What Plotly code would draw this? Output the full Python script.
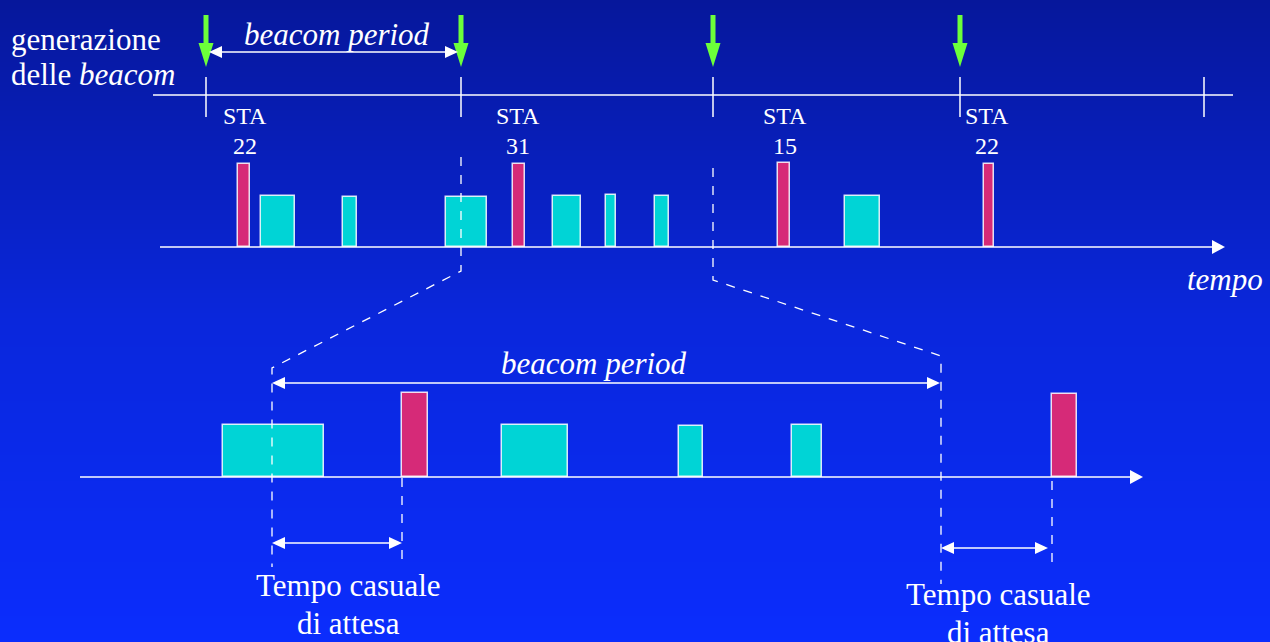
import plotly.graph_objects as go

# ---- diagram data (canvas units: x = time to the right, y grows downward) ----
# beacon generation instants on the top time line
beacon_t = [206, 461, 713, 960, 1204]
green_t = beacon_t[:4]

# station that wins each beacon period
sta_id = ["22", "31", "15", "22"]
sta_lbl_x = [245, 518, 785, 987]

# upper channel: beacons (red) and other frames (cyan)
up_red_x0 = [238, 513, 778, 984]
up_red_x1 = [250, 525, 790, 994]
up_red_h = [83, 83, 84, 83]
up_cyan_x0 = [261, 343, 446, 553, 606, 655, 845]
up_cyan_x1 = [295, 357, 487, 581, 616, 669, 880]
up_cyan_h = [51, 50, 50, 51, 52, 51, 51]

# zoomed channel (one beacon period)
lo_red_x0 = [402, 1052]
lo_red_x1 = [428, 1077]
lo_red_h = [84, 83]
lo_cyan_x0 = [223, 502, 679, 792]
lo_cyan_x1 = [324, 568, 703, 822]
lo_cyan_h = [52, 52, 51, 52]

# zoom mapping: start / end of the period in the upper and lower drawing
zoom_up = [461, 713]
zoom_lo = [272, 941]
wait_end = [402, 1050]

W, H = 1270, 642
Y_LINE, Y_UP, Y_LO = 95, 247, 477
WHITE = "white"
RED, CYAN, GREEN = "#d62a78", "#00d4d6", "#6cff3a"
FONT = "Liberation Serif"

fig = go.Figure()

# background gradient
fig.add_trace(go.Heatmap(x=[0, W], y=[0, 320, H], z=[[0, 0], [0.5, 0.5], [1, 1]],
                         zsmooth="best", showscale=False, hoverinfo="skip",
                         colorscale=[[0, "#06179b"], [0.5, "#0a27dc"], [1, "#0b2dfd"]]))


def line(x, y, width=1.5, dash=None, color=WHITE):
    fig.add_trace(go.Scatter(x=x, y=y, mode="lines", hoverinfo="skip",
                             line=dict(color=color, width=width, dash=dash)))


def tri(xt, yt, d, length=13, half=6, color=WHITE):
    # filled arrow head, tip at (xt, yt), d in 'r', 'l', 'd'
    if d == "r":
        xs, ys = [xt, xt - length, xt - length, xt], [yt, yt - half, yt + half, yt]
    elif d == "l":
        xs, ys = [xt, xt + length, xt + length, xt], [yt, yt - half, yt + half, yt]
    else:
        xs, ys = [xt, xt - half, xt + half, xt], [yt, yt - length, yt - length, yt]
    fig.add_trace(go.Scatter(x=xs, y=ys, mode="lines", fill="toself", fillcolor=color,
                             line=dict(color=color, width=0), hoverinfo="skip"))


def dbl_arrow(x0, x1, y):
    line([x0 + 10, x1 - 10], [y, y])
    tri(x0, y, "l")
    tri(x1, y, "r")


def bars(x0, x1, h, base, color):
    fig.add_trace(go.Bar(x=[(a + b) / 2 for a, b in zip(x0, x1)],
                         width=[b - a for a, b in zip(x0, x1)],
                         y=[-v for v in h], base=[base] * len(h),
                         marker=dict(color=color, line=dict(color="rgba(255,255,255,0.85)", width=1.5)),
                         hoverinfo="skip"))


# top time line with beacon ticks
line([153, 1233], [Y_LINE, Y_LINE])
for t in beacon_t:
    line([t, t], [77, 117])

# green arrows: beacon generation
for t in green_t:
    line([t, t], [15, 46], width=5, color=GREEN)
    tri(t, 67, "d", length=24, half=7.5, color=GREEN)

# beacon period on top
dbl_arrow(beacon_t[0] + 3, beacon_t[1] - 3, 52)

# channel axes
line([160, 1213], [Y_UP, Y_UP])
tri(1225, Y_UP, "r", length=13, half=7)
line([80, 1131], [Y_LO, Y_LO])
tri(1143, Y_LO, "r", length=13, half=7)

# dashed zoom guides
line([zoom_up[0], zoom_up[0], zoom_lo[0], zoom_lo[0]], [157, 271, 368, 567], width=1.3, dash="dash")
line([zoom_up[1], zoom_up[1], zoom_lo[1], zoom_lo[1]], [168, 280, 356, 584], width=1.3, dash="dash")
line([wait_end[0], wait_end[0]], [478, 562], width=1.3, dash="dash")
line([wait_end[1] + 2, wait_end[1] + 2], [481, 568], width=1.3, dash="dash")

# frames
bars(up_red_x0, up_red_x1, up_red_h, Y_UP, RED)
bars(up_cyan_x0, up_cyan_x1, up_cyan_h, Y_UP, CYAN)
bars(lo_red_x0, lo_red_x1, lo_red_h, Y_LO, RED)
bars(lo_cyan_x0, lo_cyan_x1, lo_cyan_h, Y_LO, CYAN)

# lower arrows
dbl_arrow(zoom_lo[0], zoom_lo[1] - 1, 383)
dbl_arrow(zoom_lo[0], wait_end[0], 543)
dbl_arrow(zoom_lo[1], wait_end[1] - 2, 548)

# texts
notes = [
    (9, 39, "generazione", "left", 31),
    (9, 74, "delle <i>beacom</i>", "left", 31),
    (337, 34, "<i>beacom period</i>", "center", 31),
    (594, 363, "<i>beacom period</i>", "center", 31),
    (1225, 279, "<i>tempo</i>", "center", 31),
    (348, 585, "Tempo casuale", "center", 31),
    (348, 623, "di attesa", "center", 31),
    (998, 594, "Tempo casuale", "center", 31),
    (998, 632, "di attesa", "center", 31),
]
for sx, sid in zip(sta_lbl_x, sta_id):
    notes.append((sx, 116, "STA", "center", 24))
    notes.append((sx, 146, sid, "center", 24))
for x, y, txt, anc, size in notes:
    fig.add_annotation(x=x, y=y, text=txt, showarrow=False, xanchor=anc, yanchor="middle",
                       font=dict(family=FONT, size=size, color=WHITE))

fig.update_layout(width=W, height=H, margin=dict(l=0, r=0, t=0, b=0),
                  paper_bgcolor="#0b2dfd", plot_bgcolor="#0b2dfd",
                  showlegend=False, barmode="overlay", bargap=0,
                  xaxis=dict(range=[0, W], visible=False, fixedrange=True),
                  yaxis=dict(range=[H, 0], visible=False, fixedrange=True))

# page body has a default margin; drop it so the figure fills the window
fig.write_html("out.html", config={"displayModeBar": False},
               post_script="document.body.style.margin='0';")
